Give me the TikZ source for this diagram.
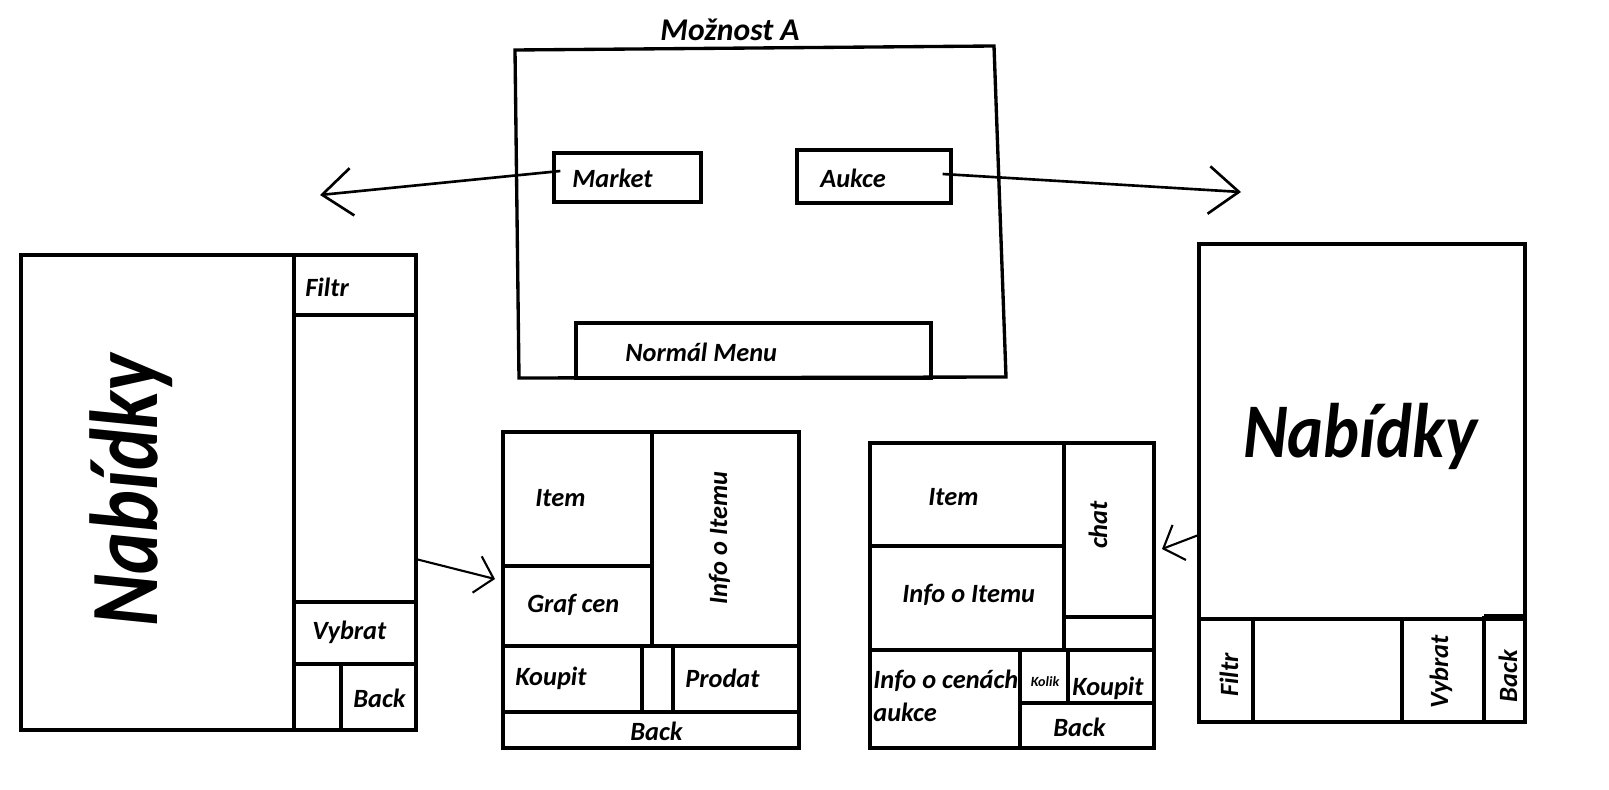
\documentclass[tikz,border=0pt]{standalone}
\usepackage{fontspec}
\usepackage{graphicx}
\setmainfont{Carlito}
\usetikzlibrary{arrows.meta,fit}

\tikzset{
  okno/.style={draw, line width=1.9pt, inner sep=0pt},
  cara/.style={line width=1.9pt},
  popis/.style={font=\bfseries\itshape\fontsize{15}{18}\selectfont, anchor=west, inner sep=0pt},
  sipka/.style={line width=1.5pt, -{Straight Barb[length=0.6cm,width=0.95cm]}},
  sipkamala/.style={line width=1.2pt, -{Straight Barb[length=0.34cm,width=0.75cm]}},
}

\begin{document}
\begin{tikzpicture}[x=0.02cm, y=-0.02cm]
\useasboundingbox (0,0) rectangle (1609,790);

% Hlavni okno
\draw[cara] (515,50) -- (994,46) -- (1006,377) -- (519,378) -- cycle;
\node[popis, anchor=center, font=\bfseries\itshape\fontsize{18}{21}\selectfont] (nadpis) at (730,30) {Možnost A};

\node[okno, fit={(554,153) (701,202)}] (market) {};
\node[okno, fit={(797,150) (951,203)}] (aukce) {};
\node[okno, fit={(576,323) (931,378)}] (menu) {};
\node[popis] (tmarket) at (572,178) {Market};
\node[popis] (taukce) at (820,178) {Aukce};
\node[popis] (tmenu) at (625,352) {Normál Menu};

% Levy panel
\node[okno, fit={(21,255) (416,730)}] (lpanel) {};
\draw[cara] (294,255) -- (294,730);
\draw[cara] (294,315) -- (416,315);
\draw[cara] (294,602) -- (416,602);
\draw[cara] (294,664) -- (416,664);
\draw[cara] (341,664) -- (341,730);
\node[popis, rotate=90, anchor=base, font=\bfseries\itshape\fontsize{55}{60}\selectfont] (lnabidky) at (157,490) {\scalebox{0.82}[1]{Nabídky}};
\node[popis] (lfiltr) at (305,287) {Filtr};
\node[popis] (lvybrat) at (312,632) {Vybrat};
\node[popis] (lback) at (353,698) {Back};

% Market detail
\node[okno, fit={(503,432) (799,748)}] (mpanel) {};
\draw[cara] (652,432) -- (652,646);
\draw[cara] (503,566) -- (652,566);
\draw[cara] (503,646) -- (799,646);
\draw[cara] (642,646) -- (642,712);
\draw[cara] (673,646) -- (673,712);
\draw[cara] (503,712) -- (799,712);
\node[popis] (mitem) at (535,498) {Item};
\node[popis] (mgraf) at (527,605) {Graf cen};
\node[popis, rotate=90, anchor=base] (minfo) at (727,538) {Info o Itemu};
\node[popis] (mkoupit) at (515,678) {Koupit};
\node[popis] (mprodat) at (685,678) {Prodat};
\node[popis] (mback) at (630,731) {Back};

% Aukce detail
\node[okno, fit={(870,443) (1154,748)}] (apanel) {};
\draw[cara] (1064,443) -- (1064,650);
\draw[cara] (870,546) -- (1064,546);
\draw[cara] (1064,617) -- (1154,617);
\draw[cara] (870,650) -- (1154,650);
\draw[cara] (1020,650) -- (1020,748);
\draw[cara] (1068,650) -- (1068,703);
\draw[cara] (1020,703) -- (1154,703);
\node[popis] (aitem) at (928,497) {Item};
\node[popis] (ainfo) at (902,595) {Info o Itemu};
\node[popis, rotate=90, anchor=base] (achat) at (1107,525) {chat};
\node[popis, align=left, font=\bfseries\itshape\fontsize{15}{19}\selectfont] (aceny) at (873,696) {Info o cenách\\aukce};
\node[popis, anchor=center, font=\bfseries\itshape\fontsize{8}{10}\selectfont] (akolik) at (1045,682) {Kolik};
\node[popis] (akoupit) at (1072,688) {Koupit};
\node[popis] (aback) at (1053,727) {Back};

% Pravy panel
\node[okno, fit={(1199,244) (1525,722)}] (rpanel) {};
\draw[cara] (1199,619) -- (1525,619);
\draw[cara] (1253,619) -- (1253,722);
\draw[cara] (1402,619) -- (1402,722);
\draw[cara] (1484,616) -- (1484,722);
\draw[cara] (1484,616) -- (1525,616);
\node[popis, anchor=base west, font=\bfseries\itshape\fontsize{44}{48}\selectfont] (rnabidky) at (1243,458) {\scalebox{0.88}[1]{Nabídky}};
\node[popis, rotate=90, anchor=base] (rfiltr) at (1238,675) {Filtr};
\node[popis, rotate=90, anchor=base] (rvybrat) at (1448,672) {Vybrat};
\node[popis, rotate=90, anchor=base] (rback) at (1517,676) {Back};

% Sipky
\coordinate (hrotL) at (320,195);
\coordinate (hrotR) at (1241,192);
\coordinate (hrotM) at (495,579);
\coordinate (hrotA) at (1162,549);
\draw[sipka] ([shift={(8,-6.5)}]market.west) -- (hrotL);
\draw[sipka] ([shift={(-10,-2.5)}]aukce.east) -- (hrotR);
\draw[sipkamala] ([shift={(0,67)}]lpanel.east) -- (hrotM);
\draw[sipkamala] ([shift={(0,52.5)}]rpanel.west) -- (hrotA);

\end{tikzpicture}
\end{document}
